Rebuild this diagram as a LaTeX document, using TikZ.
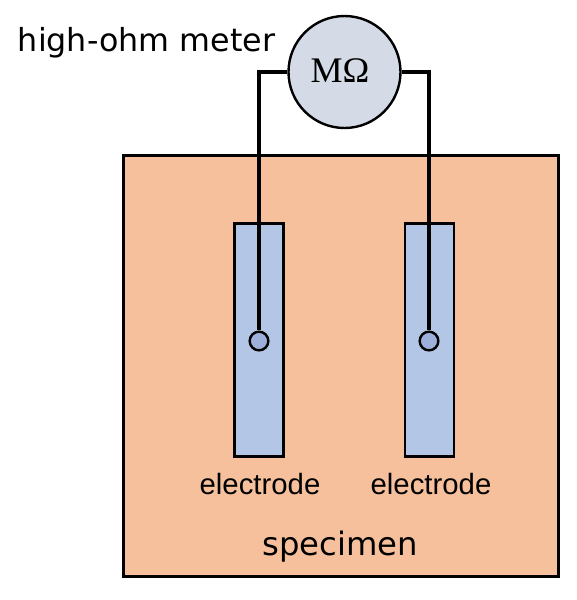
\documentclass[tikz,border=0pt]{standalone}
\usepackage{fontspec}
\setmainfont{DejaVu Sans}
\newfontfamily\arialf{Liberation Sans}
\newfontfamily\timesf{Liberation Serif}
\definecolor{spec}{HTML}{F5C09B}
\definecolor{elec}{HTML}{B3C6E6}
\definecolor{meter}{HTML}{D5DBE6}
\definecolor{dot}{HTML}{9DB0DC}
\tikzset{
  px/.style={x=0.75pt,y=-0.75pt},
  wire/.style={line width=2.6pt},
  outl/.style={draw=black,line width=1.8pt},
  lab/.style={inner sep=0pt,anchor=center,text=black},
}
\begin{document}
\begin{tikzpicture}[px]
\useasboundingbox (0,0) rectangle (577,600);
\fill[white] (0,0) rectangle (577,600);
\node[outl,fill=spec,rectangle,minimum width=326.5pt,minimum height=316pt,inner sep=0pt] (specimen) at (341,366) {};
\node[outl,fill=elec,rectangle,minimum width=37pt,minimum height=174.5pt,inner sep=0pt] (e1) at (259,340) {};
\node[outl,fill=elec,rectangle,minimum width=37pt,minimum height=174.5pt,inner sep=0pt] (e2) at (429.5,340) {};
\node[outl,fill=meter,circle,minimum size=84pt,inner sep=0pt] (m) at (344.5,72) {};
\node[outl,fill=dot,circle,minimum size=14pt,inner sep=0pt] (d1) at (259,341) {};
\node[outl,fill=dot,circle,minimum size=14pt,inner sep=0pt] (d2) at (429,341) {};
\draw[wire] (m.west) -- (259,72) -- (d1.north);
\draw[wire] (m.east) -- (429,72) -- (d2.north);
\node[lab,font=\timesf\fontsize{27}{28}\selectfont] (mo) at (340,71) {MΩ};
\node[lab,font=\fontsize{23.8}{27}\selectfont] (hm) at (146.5,43) {high-ohm meter};
\node[lab,font=\arialf\fontsize{22}{26}\selectfont] (l1) at (260,484) {electrode};
\node[lab,font=\arialf\fontsize{22}{26}\selectfont] (l2) at (431,484) {electrode};
\node[lab,font=\fontsize{24.2}{28}\selectfont] (s) at (340,547) {specimen};
\end{tikzpicture}
\end{document}
